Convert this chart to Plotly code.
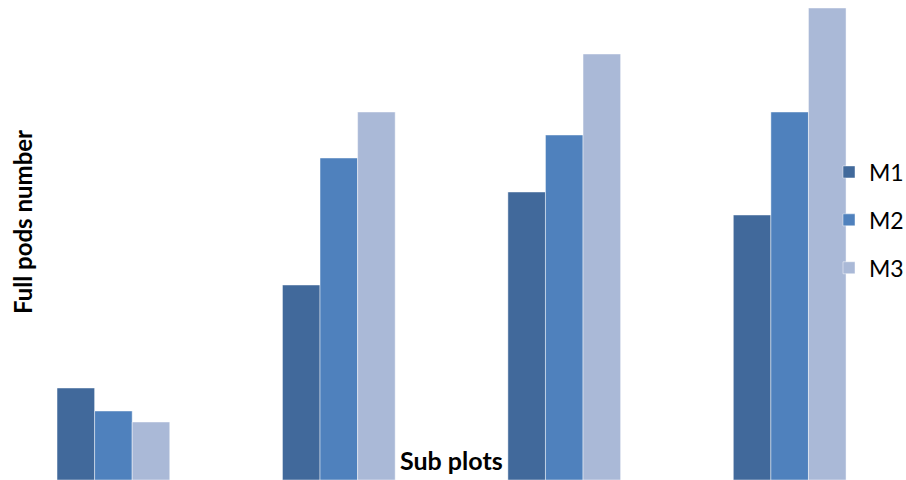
import plotly.graph_objects as go

categories = ["S1", "S2", "S3", "S4"]
m1 = [9.2, 19.5, 28.8, 26.5]
m2 = [6.9, 32.2, 34.5, 36.8]
m3 = [5.8, 36.8, 42.6, 47.2]
series_names = ["M1", "M2", "M3"]
colors = ["#41699B", "#4F81BD", "#AAB9D7"]

fig = go.Figure()
for name, vals, col in zip(series_names, [m1, m2, m3], colors):
    fig.add_trace(go.Bar(
        x=categories, y=vals, name=name, legendgroup=name,
        marker=dict(color=col, line=dict(color="rgba(255,255,255,0.45)", width=1)),
    ))

fig.update_layout(
    width=906, height=480, autosize=False,
    margin=dict(l=0, r=0, t=0, b=0, autoexpand=False),
    paper_bgcolor="white", plot_bgcolor="white",
    barmode="group", bargap=0.5, bargroupgap=0,
    xaxis=dict(visible=False, range=[-0.503, 3.516]),
    yaxis=dict(visible=False, range=[0, 48]),
    font=dict(family="Lato", color="black"),
    legend=dict(
        x=829/906, xanchor="left", y=1-220/480, yanchor="middle",
        bgcolor="rgba(0,0,0,0)", font=dict(size=23, family="Lato"),
        tracegroupgap=15,
    ),
    showlegend=True,
)

fig.add_annotation(
    text="<b>Sub plots</b>", xref="paper", yref="paper",
    x=451/906, y=1-460/480, xanchor="center", yanchor="middle",
    showarrow=False, font=dict(size=25, family="Lato", color="black"),
)
fig.add_annotation(
    text="<b>Full pods number</b>", xref="paper", yref="paper",
    x=22/906, y=1-222/480, xanchor="center", yanchor="middle",
    textangle=-90, showarrow=False,
    font=dict(size=24, family="Lato", color="black"),
)

fig.write_html("out.html")
